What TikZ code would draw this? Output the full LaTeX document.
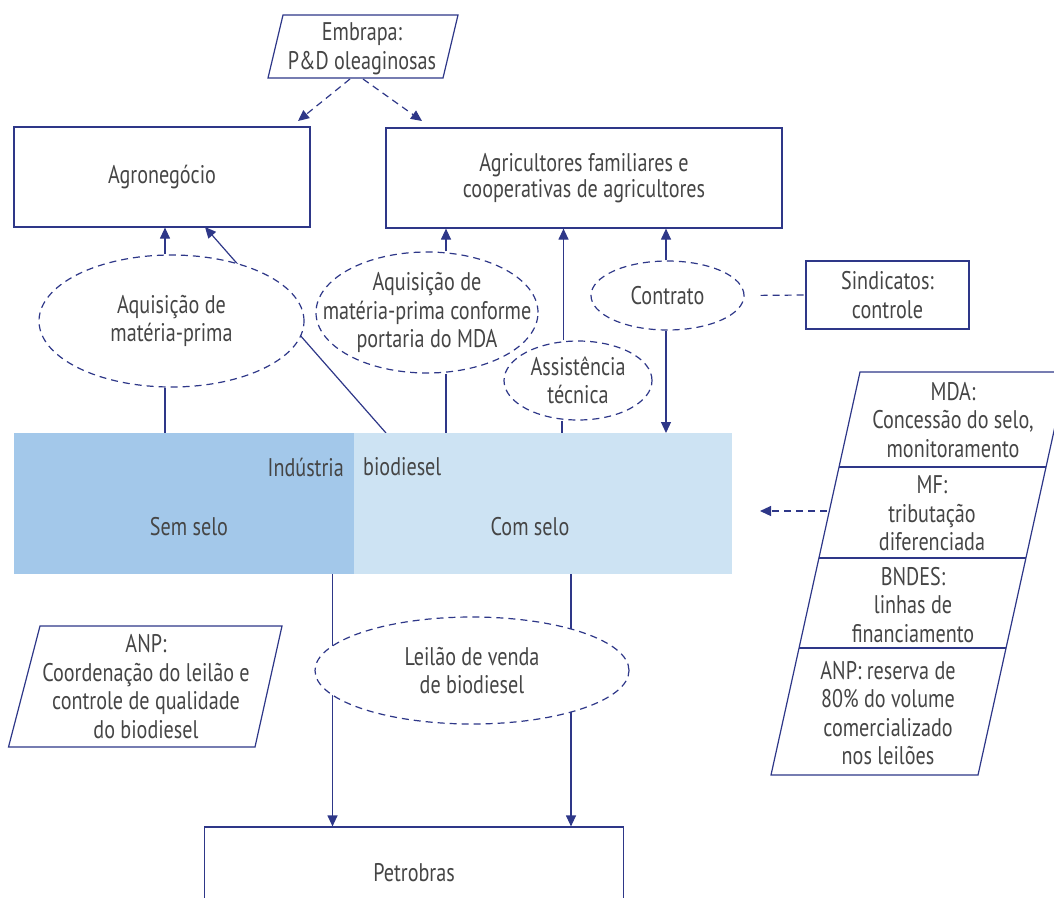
\documentclass[tikz,border=0pt]{standalone}
\usepackage{fontspec}
\setmainfont{PT Sans}[FakeStretch=0.79]
\usetikzlibrary{arrows.meta,shapes.geometric,backgrounds}
\definecolor{navy}{HTML}{2E3788}
\definecolor{txt}{HTML}{454545}
\definecolor{seloA}{HTML}{A3C8EA}
\definecolor{seloB}{HTML}{CDE3F3}
\begin{document}
\begin{tikzpicture}[x=1pt,y=-1pt,
  every node/.style={font=\fontsize{25.5}{28.5}\selectfont, text=txt, align=center, inner sep=0pt},
  box/.style={draw=navy, line width=1.2pt, fill=white},
  oval/.style={ellipse, draw=navy, line width=1.2pt, dash pattern=on 7pt off 5pt, fill=white},
  conn/.style={draw=navy, line width=1.2pt},
  arr/.style={conn, -{Triangle[length=11pt,width=10pt]}},
  darr/.style={arr, dash pattern=on 7pt off 5pt},
  dline/.style={conn, dash pattern=on 7pt off 5pt}]
\useasboundingbox (0,0) rectangle (1054,897);

% ---- boxes
\node[box, minimum width=296pt, minimum height=100pt] (agro) at (162,177) {Agronegócio};
\node[box, minimum width=396pt, minimum height=100pt, font=\fontsize{25.5}{26}\selectfont] (agri) at (584,178) {Agricultores familiares e\\cooperativas de agricultores};
\node[box, minimum width=163pt, minimum height=68pt] (sind) at (887.5,295) {Sindicatos:\\controle};
\node[box, minimum width=419pt, minimum height=92pt] (petro) at (414,873) {Petrobras};

% ---- industry
\node[fill=seloA, minimum width=340pt, minimum height=141pt, anchor=north west] (sem) at (14,433) {};
\node[fill=seloB, minimum width=378pt, minimum height=141pt, anchor=north west] (com) at (354,433) {};
\node[anchor=east] (ind1) at (344,467) {Indústria};
\node[anchor=west] (ind2) at (363,467) {biodiesel};
\node (semt) at (189,527) {Sem selo};
\node (comt) at (530,527) {Com selo};

% ---- ellipses
\node[oval, minimum width=265pt, minimum height=132pt] (e1) at (171.5,321) {};
\node (e1t) at (e1) {Aquisição de\\matéria-prima};
\node[oval, minimum width=222pt, minimum height=121pt] (e2) at (427,312.5) {};
\node (e2t) at (e2) {Aquisição de\\matéria-prima conforme\\portaria do MDA};
\node[oval, minimum width=148pt, minimum height=79pt] (e3) at (578,380.5) {};
\node (e3t) at (e3) {Assistência\\técnica};
\node[oval, minimum width=153pt, minimum height=69pt] (e4) at (667.5,295.5) {};
\node (e4t) at (e4) {Contrato};
\node[oval, minimum width=314pt, minimum height=107pt] (e5) at (472,670.5) {};
\node (e5t) at (e5) {Leilão de venda\\de biodiesel};

% ---- parallelograms
\coordinate (embTL) at (283,15); \coordinate (embTR) at (458,15);
\coordinate (embBR) at (443,78); \coordinate (embBL) at (268,78);
\draw[box] (embTL) -- (embTR) -- (embBR) -- (embBL) -- cycle;
\node (emb) at (362,49) {Embrapa:\\P\&D oleaginosas};

\coordinate (anpTL) at (40,626); \coordinate (anpTR) at (282,626);
\coordinate (anpBR) at (255,747); \coordinate (anpBL) at (8.5,747);
\draw[box] (anpTL) -- (anpTR) -- (anpBR) -- (anpBL) -- cycle;
\node (anp) at (146,686.5) {ANP:\\Coordenação do leilão e\\controle de qualidade\\do biodiesel};

\coordinate (gTL) at (860,372); \coordinate (gTR) at (1067,372);
\coordinate (gBR) at (978,775); \coordinate (gBL) at (771,775);
\draw[box] (gTL) -- (gTR) -- (gBR) -- (gBL) -- cycle;
\draw[conn] (839,467) -- (1046,467);
\draw[conn] (819,558) -- (1026,558);
\draw[conn] (799,648) -- (1006,648);
\node (m1) at (953,420) {MDA:\\Concessão do selo,\\monitoramento};
\node (m2) at (932,513.5) {MF:\\tributação\\diferenciada};
\node (m3) at (913,605) {BNDES:\\linhas de\\financiamento};
\node (m4) at (888,713) {ANP: reserva de\\80\% do volume\\comercializado\\nos leilões};

% ---- connector end points
\coordinate (embL) at (350,79); \coordinate (embR) at (363,79);
\coordinate (agroTip) at (298,121); \coordinate (agriTip) at (422,121);
\coordinate (diagS) at (386,433); \coordinate (diagE) at (205,227);
\coordinate (mfL) at (827,511); \coordinate (indTip) at (760,511);

% ---- connectors
\begin{pgfonlayer}{background}
\draw[darr] (embL) -- (agroTip);
\draw[darr] (embR) -- (agriTip);
\draw[arr] ([xshift=-6.5pt]e1.north) -- ([xshift=-6.5pt]e1.north |- agro.south);
\draw[conn] ([xshift=-6.5pt]e1.south) -- ([xshift=-6.5pt]e1.south |- sem.north);
\draw[arr] (diagS) -- (diagE);
\draw[arr] ([xshift=19pt]e2.north) -- ([xshift=19pt]e2.north |- agri.south);
\draw[conn] ([xshift=19pt]e2.south) -- ([xshift=19pt]e2.south |- com.north);
\draw[arr] ([xshift=-14.5pt]e3.north) -- ([xshift=-14.5pt]e3.north |- agri.south);
\draw[conn] ([xshift=-16pt]e3.south) -- ([xshift=-16pt]e3.south |- com.north);
\draw[arr] ([xshift=-1.5pt]e4.north) -- ([xshift=-1.5pt]e4.north |- agri.south);
\draw[arr] ([xshift=-1.5pt]e4.south) -- ([xshift=-1.5pt]e4.south |- com.north);
\draw[dline, shorten <=16pt] (e4.east) -- (sind.west);
\draw[arr] (sem.south -| 332.5,0) -- (petro.north -| 332.5,0);
\draw[arr] (com.south -| 571,0) -- (petro.north -| 571,0);
\draw[darr] (mfL) -- (indTip);
\end{pgfonlayer}
\end{tikzpicture}
\end{document}
